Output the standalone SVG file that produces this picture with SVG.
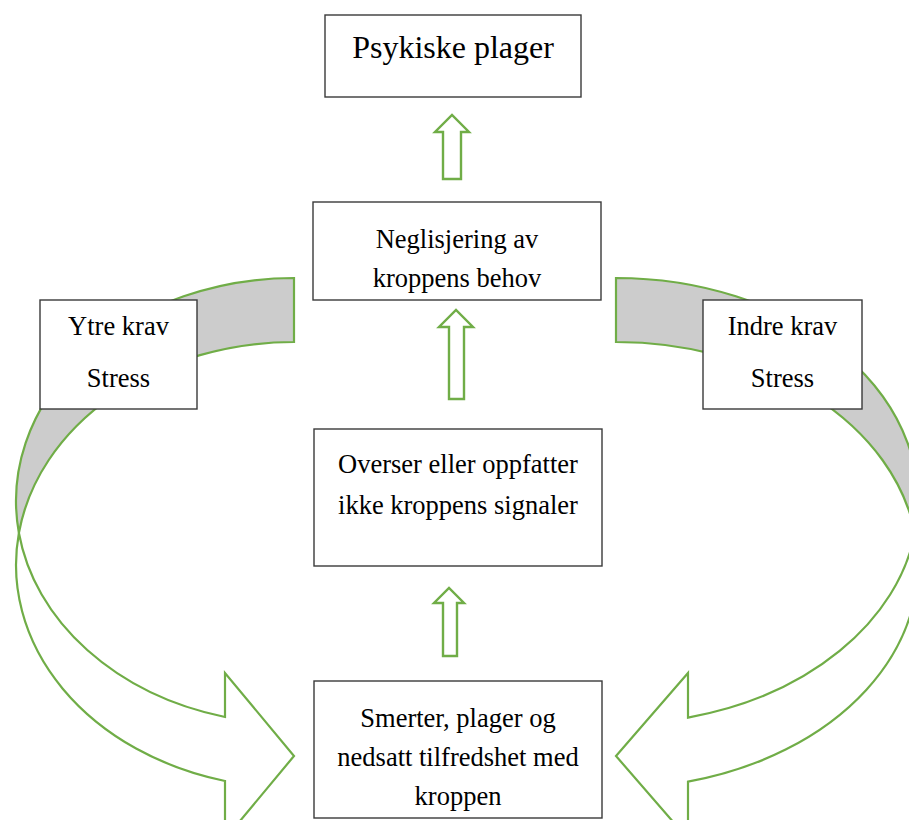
<svg xmlns="http://www.w3.org/2000/svg" width="909" height="820" viewBox="0 0 909 820">
<style>
.box{fill:#ffffff;stroke:#3a3a3a;stroke-width:1.4}
.t{font-family:"Liberation Serif","Times New Roman",serif;font-size:26.5px;fill:#000000;text-anchor:middle}
.title{font-size:32px}
.back{fill:#cccccc;stroke:#70ad47;stroke-width:2.2;stroke-linejoin:miter}
.front{fill:#ffffff;stroke:#70ad47;stroke-width:2.2;stroke-linejoin:miter}
.up{fill:#ffffff;stroke:#70ad47;stroke-width:2.4;stroke-linejoin:miter}
</style>
<rect x="0" y="0" width="909" height="820" fill="#ffffff"/>
<g id="connectors">
  <g id="curve-left">
    <path class="back" d="M294,278 A278,223 0 0,0 18.9,533 A278,223 0 0,1 294,342 Z"/>
    <path class="front" d="M18.9,533 A278,223 0 0,0 225,781 L225,839 L294,756 L225,673 L225,717 A278,223 0 0,1 18.9,533 Z"/>
  </g>
  <g id="curve-right">
    <path class="back" d="M616,278 A302,223 0 0,1 914.9,533 A302,223 0 0,0 616,342 Z"/>
    <path class="front" d="M914.9,533 A302,223 0 0,1 688,781.6 L688,839 L616,756 L688,673 L688,717.6 A302,223 0 0,0 914.9,533 Z"/>
  </g>
  <path id="up1" class="up" d="M443,179 L443,132 L435,132 L452,115 L469,132 L461,132 L461,179 Z"/>
  <path id="up2" class="up" d="M449,399 L449,327 L439,327 L456,310 L473,327 L464,327 L464,399 Z"/>
  <path id="up3" class="up" d="M443,656 L443,603 L434,603 L449,588 L464,603 L457,603 L457,656 Z"/>
</g>
<g id="psykiske">
  <rect class="box" x="325" y="15" width="256" height="82"/>
  <text class="t title" x="453" y="58">Psykiske plager</text>
</g>
<g id="neglisjering">
  <rect class="box" x="313" y="202" width="288" height="98"/>
  <text class="t" x="457" y="248">Neglisjering av</text>
  <text class="t" x="457" y="287">kroppens behov</text>
</g>
<g id="ytre">
  <rect class="box" x="40" y="300" width="157" height="109"/>
  <text class="t" x="118.5" y="335">Ytre krav</text>
  <text class="t" x="118.5" y="387">Stress</text>
</g>
<g id="indre">
  <rect class="box" x="703" y="300" width="159" height="109"/>
  <text class="t" x="782.5" y="335">Indre krav</text>
  <text class="t" x="782.5" y="387">Stress</text>
</g>
<g id="overser">
  <rect class="box" x="314" y="429" width="288" height="137"/>
  <text class="t" x="458" y="473">Overser eller oppfatter</text>
  <text class="t" x="458" y="514">ikke kroppens signaler</text>
</g>
<g id="smerter">
  <rect class="box" x="314" y="681" width="288" height="137"/>
  <text class="t" x="458" y="727">Smerter, plager og</text>
  <text class="t" x="458" y="766">nedsatt tilfredshet med</text>
  <text class="t" x="458" y="805">kroppen</text>
</g>
</svg>
